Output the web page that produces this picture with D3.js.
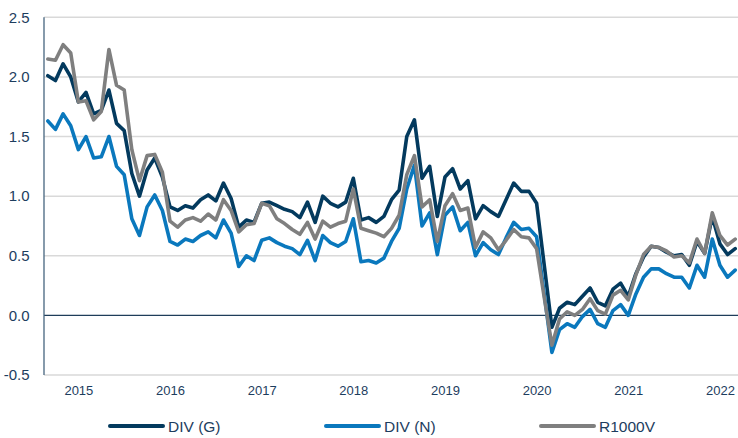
<!DOCTYPE html>
<html>
<head>
<meta charset="utf-8">
<script src="https://cdn.jsdelivr.net/npm/d3@7"></script>
<style>
  html, body { margin: 0; padding: 0; background: #ffffff; }
  svg { display: block; font-family: "Liberation Sans", Arial, sans-serif; }
</style>
</head>
<body>
<svg id="chart" width="738" height="438"></svg>
<script>
// ---- Data (monthly, Sep 2014 – Mar 2022) ----
const startMonth = "2014-09";
const monthCount = 91;

const divG = [
  2.01, 1.97, 2.11, 2.00, 1.79, 1.87, 1.69, 1.72, 1.89, 1.61,
  1.55, 1.19, 1.00, 1.22, 1.32, 1.16, 0.91, 0.88, 0.92, 0.90,
  0.97, 1.01, 0.96, 1.11, 0.98, 0.74, 0.80, 0.78, 0.94, 0.95,
  0.92, 0.89, 0.87, 0.82, 0.95, 0.78, 1.00, 0.94, 0.91, 0.95,
  1.15, 0.80, 0.82, 0.78, 0.83, 0.97, 1.05, 1.50, 1.64, 1.15,
  1.25, 0.83, 1.16, 1.23, 1.06, 1.13, 0.81, 0.92, 0.87, 0.83,
  0.97, 1.11, 1.04, 1.04, 0.94, 0.42, -0.10, 0.06, 0.11, 0.09,
  0.16, 0.23, 0.11, 0.08, 0.22, 0.27, 0.16, 0.35, 0.49, 0.58,
  0.57, 0.53, 0.50, 0.51, 0.42, 0.62, 0.52, 0.83, 0.60, 0.51,
  0.56
];

const divN = [
  1.63, 1.56, 1.69, 1.59, 1.39, 1.50, 1.32, 1.33, 1.50, 1.25,
  1.18, 0.81, 0.67, 0.91, 1.01, 0.88, 0.62, 0.59, 0.64, 0.62,
  0.67, 0.70, 0.65, 0.80, 0.69, 0.41, 0.50, 0.46, 0.63, 0.65,
  0.61, 0.58, 0.56, 0.51, 0.63, 0.46, 0.67, 0.61, 0.58, 0.62,
  0.81, 0.45, 0.46, 0.44, 0.48, 0.62, 0.73, 1.06, 1.26, 0.75,
  0.86, 0.51, 0.84, 0.91, 0.71, 0.78, 0.50, 0.61, 0.55, 0.51,
  0.65, 0.78, 0.72, 0.73, 0.66, 0.18, -0.31, -0.12, -0.07, -0.10,
  -0.01, 0.05, -0.07, -0.10, 0.04, 0.09, 0.00, 0.18, 0.32, 0.39,
  0.39, 0.35, 0.32, 0.32, 0.23, 0.42, 0.32, 0.64, 0.42, 0.32,
  0.38
];

const r1000v = [
  2.15, 2.14, 2.27, 2.20, 1.79, 1.80, 1.64, 1.71, 2.23, 1.93,
  1.89, 1.39, 1.13, 1.34, 1.35, 1.20, 0.79, 0.74, 0.80, 0.82,
  0.79, 0.85, 0.80, 0.97, 0.88, 0.70, 0.76, 0.77, 0.94, 0.92,
  0.81, 0.77, 0.72, 0.68, 0.78, 0.64, 0.79, 0.74, 0.77, 0.79,
  1.06, 0.73, 0.71, 0.69, 0.66, 0.73, 0.84, 1.18, 1.34, 0.91,
  0.97, 0.62, 0.92, 1.02, 0.88, 0.90, 0.57, 0.70, 0.65, 0.55,
  0.63, 0.72, 0.66, 0.65, 0.56, 0.15, -0.25, -0.03, 0.03, 0.00,
  0.05, 0.14, 0.04, 0.01, 0.17, 0.21, 0.13, 0.34, 0.51, 0.58,
  0.57, 0.54, 0.49, 0.50, 0.44, 0.64, 0.52, 0.86, 0.67, 0.59,
  0.64
];

const seriesNames = ["DIV (G)", "DIV (N)", "R1000V"];
const yearLabels = ["2015", "2016", "2017", "2018", "2019", "2020", "2021", "2022"];
const yTicks = [-0.5, 0.0, 0.5, 1.0, 1.5, 2.0, 2.5];

// ---- Setup ----
const colors = { "DIV (G)": "#033a5e", "DIV (N)": "#0a78bd", "R1000V": "#7f7f7f" };
const textColor = "#1d3d5e";

const parseMonth = d3.timeParse("%Y-%m");
const start = parseMonth(startMonth);
const months = d3.range(monthCount).map(i => d3.timeMonth.offset(start, i));

const series = [
  { name: seriesNames[0], values: divG },
  { name: seriesNames[1], values: divN },
  { name: seriesNames[2], values: r1000v }
];

const svg = d3.select("#chart");
const plot = { left: 44, right: 739, top: 17.3, bottom: 375 };

const x = d3.scaleLinear().domain([-0.5, monthCount - 0.5]).range([plot.left, plot.right]);
const y = d3.scaleLinear().domain([-0.5, 2.5]).range([plot.bottom, plot.top]);

// gridlines
svg.append("g")
  .selectAll("line")
  .data(yTicks.filter(d => d !== 0))
  .join("line")
  .attr("x1", plot.left).attr("x2", 738)
  .attr("y1", d => y(d)).attr("y2", d => y(d))
  .attr("stroke", "#d9d9d9")
  .attr("stroke-width", 1.5);

// y axis labels
const yAxis = svg.append("g")
  .attr("transform", `translate(${plot.left},0)`)
  .call(d3.axisLeft(y).tickValues(yTicks).tickFormat(d => d.toFixed(1)).tickSize(0).tickPadding(14.5));
yAxis.select(".domain").remove();
yAxis.selectAll("text")
  .attr("fill", textColor)
  .style("font-size", "15px")
  .style("font-family", "'Liberation Sans', Arial, sans-serif");

// x axis labels (at January of each year)
const yearIdx = yearLabels.map(yl => months.findIndex(m => m.getFullYear() === +yl && m.getMonth() === 0));
const xAxis = svg.append("g")
  .attr("transform", `translate(0,${plot.bottom})`)
  .call(d3.axisBottom(x).tickValues(yearIdx).tickFormat((d, i) => yearLabels[i]).tickSize(0).tickPadding(10.8));
xAxis.select(".domain").remove();
xAxis.selectAll("text")
  .attr("fill", textColor)
  .style("font-size", "13px")
  .style("font-family", "'Liberation Sans', Arial, sans-serif");

// zero line
svg.append("line")
  .attr("x1", plot.left).attr("x2", 738)
  .attr("y1", y(0)).attr("y2", y(0))
  .attr("stroke", "#1f3d5a")
  .attr("stroke-width", 1.3);

// left axis line
svg.append("line")
  .attr("x1", plot.left).attr("x2", plot.left)
  .attr("y1", plot.top).attr("y2", plot.bottom)
  .attr("stroke", "#46657f")
  .attr("stroke-width", 1.3);

// lines
const line = d3.line()
  .x((d, i) => x(i))
  .y(d => y(d));

svg.append("g")
  .selectAll("path")
  .data(series)
  .join("path")
  .attr("d", d => line(d.values))
  .attr("fill", "none")
  .attr("stroke", d => colors[d.name])
  .attr("stroke-width", 3.6)
  .attr("stroke-linejoin", "round")
  .attr("stroke-linecap", "round");

// legend
const legendX = [110, 326, 541];
const legend = svg.append("g").selectAll("g")
  .data(series)
  .join("g")
  .attr("transform", (d, i) => `translate(${legendX[i]},426)`);
legend.append("line")
  .attr("x1", 0).attr("x2", 53)
  .attr("y1", 0).attr("y2", 0)
  .attr("stroke", d => colors[d.name])
  .attr("stroke-width", 4)
  .attr("stroke-linecap", "round");
legend.append("text")
  .attr("x", 58)
  .attr("y", 0)
  .attr("dy", "0.36em")
  .attr("fill", textColor)
  .style("font-size", "15.5px")
  .text(d => d.name);
</script>
</body>
</html>
